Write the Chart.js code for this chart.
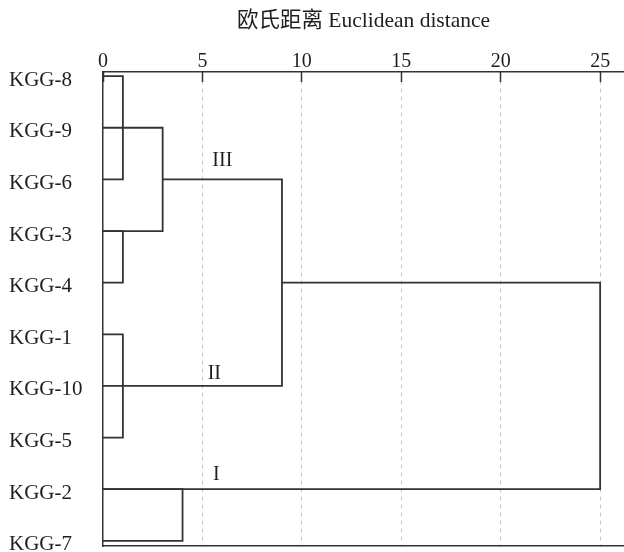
<!DOCTYPE html>
<html>
<head>
<meta charset="utf-8">
<script src="https://cdn.jsdelivr.net/npm/chart.js@4.4.1/dist/chart.umd.min.js"></script>
<style>
  html, body { margin: 0; padding: 0; background: #fff; }
  #grafico { display: block; }
</style>
</head>
<body>
<canvas id="grafico" width="624" height="552"></canvas>
<script>
// Amostras, de cima para baixo
const categories = ['KGG-8', 'KGG-9', 'KGG-6', 'KGG-3', 'KGG-4', 'KGG-1', 'KGG-10', 'KGG-5', 'KGG-2', 'KGG-7'];
const xTicks = [0, 5, 10, 15, 20, 25];
const axisTitle = '欧氏距离 Euclidean distance';

// Ligações do dendrograma (altura = distância de fusão)
const linkHeight = [1, 1, 3, 1, 9, 4, 25];
const linkUpperRow = [0, 3, 1, 5, 2, 8, 4];
const linkLowerRow = [2, 4, 3, 7, 6, 9, 8];
const linkUpperFrom = [0, 0, 0, 0, 3, 0, 9];
const linkLowerFrom = [0, 0, 0, 0, 0, 0, 0];

// Nomes dos grupos
const groupNames = ['I', 'II', 'III'];
const groupX = [5.7, 5.6, 6.0];
const groupY = [7.72, 5.77, 1.63];

const fonte = "'Liberation Serif', 'Noto Sans CJK SC', serif";
const corTexto = '#1e1e1e';
const corLinha = '#333333';

// Escreve I, II, III perto dos ramos
const nomesGrupos = {
  id: 'nomesGrupos',
  afterDatasetsDraw(chart) {
    const { ctx, scales: { x, y } } = chart;
    ctx.save();
    ctx.font = '20px ' + fonte;
    ctx.fillStyle = corTexto;
    ctx.textAlign = 'center';
    ctx.textBaseline = 'middle';
    groupNames.forEach((nome, i) => {
      ctx.fillText(nome, x.getPixelForValue(groupX[i]), y.getPixelForValue(groupY[i]));
    });
    ctx.restore();
  }
};

const datasets = linkHeight.map((h, i) => ({
  data: [
    { x: linkUpperFrom[i], y: linkUpperRow[i] },
    { x: h, y: linkUpperRow[i] },
    { x: h, y: linkLowerRow[i] },
    { x: linkLowerFrom[i], y: linkLowerRow[i] }
  ],
  showLine: true,
  borderColor: corLinha,
  borderWidth: 1.8,
  pointRadius: 0,
  tension: 0,
  clip: false
}));

new Chart(document.getElementById('grafico'), {
  type: 'scatter',
  data: { datasets },
  plugins: [nomesGrupos],
  options: {
    responsive: false,
    animation: false,
    layout: { padding: { left: 9, right: 0, top: 0, bottom: 0 } },
    plugins: {
      legend: { display: false },
      tooltip: { enabled: false }
    },
    scales: {
      x: {
        type: 'linear',
        position: 'top',
        min: 0,
        max: 26.2,
        afterBuildTicks: s => { s.ticks = xTicks.map(v => ({ value: v })); },
        afterFit: s => { s.height = 72; s.paddingLeft = 0; s.paddingRight = 0; },
        title: {
          display: true,
          text: axisTitle,
          color: corTexto,
          font: { family: fonte, size: 21.5 },
          padding: { top: 8, bottom: 0 }
        },
        ticks: {
          color: corTexto,
          font: { family: fonte, size: 20 },
          padding: 8,
          maxRotation: 0,
          autoSkip: false
        },
        grid: {
          color: c => (c.tick && c.tick.value === 0) ? 'rgba(0,0,0,0)' : '#c6c6c6',
          lineWidth: 1,
          tickLength: -10,
          tickColor: corLinha,
          tickWidth: 1.5
        },
        border: { color: corLinha, width: 1.5, dash: [4, 4] }
      },
      xb: {
        type: 'linear',
        position: 'bottom',
        min: 0,
        max: 26.2,
        afterFit: s => { s.height = 6; s.paddingLeft = 0; s.paddingRight = 0; },
        ticks: { display: false },
        grid: { display: false },
        border: { color: corLinha, width: 1.5 }
      },
      y: {
        type: 'linear',
        reverse: true,
        min: -0.08,
        max: 9.1,
        afterBuildTicks: s => { s.ticks = categories.map((c, i) => ({ value: i })); },
        afterFit: s => { s.width = 94; s.paddingTop = 0; s.paddingBottom = 0; },
        ticks: {
          callback: v => categories[v],
          color: corTexto,
          font: { family: fonte, size: 21 },
          crossAlign: 'far',
          labelOffset: 4,
          autoSkip: false
        },
        grid: { display: false },
        border: { color: corLinha, width: 1.5 }
      }
    }
  }
});
</script>
</body>
</html>
